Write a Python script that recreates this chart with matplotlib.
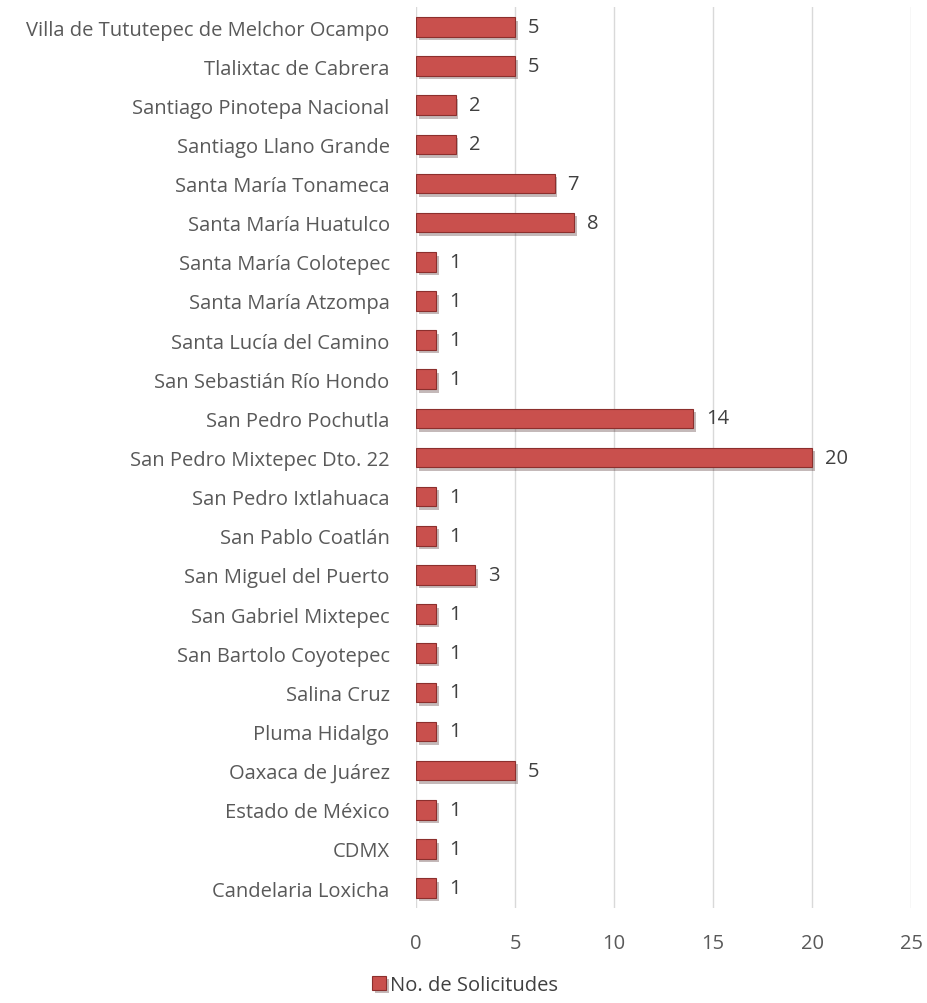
import matplotlib
matplotlib.use("Agg")
import matplotlib.pyplot as plt
import matplotlib.patheffects as pe

categories = [
    "Candelaria Loxicha", "CDMX", "Estado de México", "Oaxaca de Juárez",
    "Pluma Hidalgo", "Salina Cruz", "San Bartolo Coyotepec", "San Gabriel Mixtepec",
    "San Miguel del Puerto", "San Pablo Coatlán", "San Pedro Ixtlahuaca",
    "San Pedro Mixtepec Dto. 22", "San Pedro Pochutla", "San Sebastián Río Hondo",
    "Santa Lucía del Camino", "Santa María Atzompa", "Santa María Colotepec",
    "Santa María Huatulco", "Santa María Tonameca", "Santiago Llano Grande",
    "Santiago Pinotepa Nacional", "Tlalixtac de Cabrera",
    "Villa de Tututepec de Melchor Ocampo",
]
values = [1, 1, 1, 5, 1, 1, 1, 1, 3, 1, 1, 20, 14, 1, 1, 1, 1, 8, 7, 2, 2, 5, 5]
xticks = [0, 5, 10, 15, 20, 25]

plt.rcParams['font.family'] = ['Open Sans', 'DejaVu Sans']
fig = plt.figure(figsize=(9.27, 10.04), dpi=100)
ax = fig.add_axes([0.4488, 0.095, 0.534, 0.8966])

y = list(range(len(categories)))
bars = ax.barh(y, values, height=0.5, color='#C9504D', edgecolor='#8C2F2D', linewidth=0.8,
               label='No. de Solicitudes', zorder=3,
               path_effects=[pe.SimplePatchShadow(offset=(2, -2.5), alpha=0.3), pe.Normal()])
for yi, v in zip(y, values):
    ax.text(v + 0.65, yi, str(v), va='center', ha='left', fontsize=14.5, color='#404040')

ax.set_xlim(0, 25)
ax.set_ylim(-0.5, len(categories) - 0.5)
ax.set_xticks(xticks)
ax.set_yticks(y)
ax.set_yticklabels(categories)
ax.tick_params(axis='both', length=0, labelsize=14.5, colors='#595959')
ax.tick_params(axis='x', pad=18)
ax.tick_params(axis='y', pad=19)
for s in ax.spines.values():
    s.set_visible(False)
ax.grid(axis='x', color='#D9D9D9', linewidth=1, zorder=0)
ax.set_axisbelow(True)

leg = fig.legend(handles=[bars], labels=['No. de Solicitudes'], loc='center',
                 bbox_to_anchor=(0.502, 0.018), frameon=False, fontsize=14.5,
                 handlelength=0.7, handleheight=0.7, handletextpad=0.2)
for t in leg.get_texts():
    t.set_color('#404040')

fig.savefig('out.png', dpi=100)
